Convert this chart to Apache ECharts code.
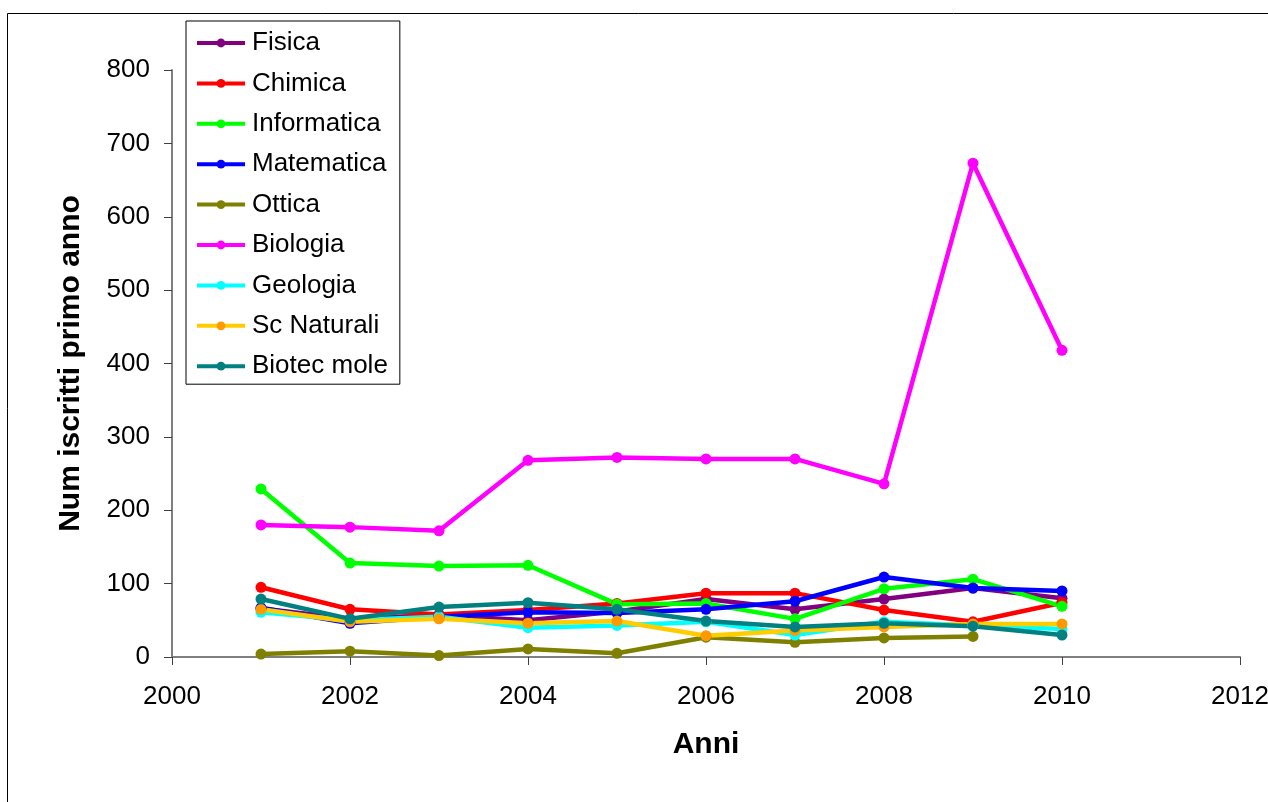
<!DOCTYPE html>
<html>
<head>
<meta charset="utf-8">
<title>Iscritti primo anno</title>
<script src="https://cdn.jsdelivr.net/npm/echarts@6/dist/echarts.min.js"></script>
<style>
	html, body { margin: 0; padding: 0; background: #fff; }
	#container { width: 1268px; height: 802px; }
</style>
</head>
<body>
<div id="container"></div>
<script>
'use strict';

// anni accademici
var years = [2001, 2002, 2003, 2004, 2005, 2006, 2007, 2008, 2009, 2010];

var fisica      = [66, 52, 57, 50, 62, 79, 65, 79, 94, 80];
var chimica     = [95, 65, 58, 64, 73, 87, 87, 64, 48, 74];
var informatica = [229, 128, 124, 125, 72, 73, 52, 93, 106, 69];
var matematica  = [67, 46, 55, 61, 60, 65, 76, 109, 94, 90];
var ottica      = [4, 8, 2, 11, 5, 27, 20, 26, 28, null];
var biologia    = [180, 177, 172, 268, 272, 270, 270, 236, 673, 418];
var geologia    = [61, 50, 55, 40, 43, 48, 30, 48, 43, 38];
var scNaturali  = [65, 48, 52, 46, 49, 29, 36, 41, 45, 45];
var biotecMole  = [79, 52, 68, 74, 65, 49, 41, 46, 42, 30];

var seriesNames = ['Fisica', 'Chimica', 'Informatica', 'Matematica', 'Ottica',
	'Biologia', 'Geologia', 'Sc Naturali', 'Biotec mole'];
var seriesValues = [fisica, chimica, informatica, matematica, ottica,
	biologia, geologia, scNaturali, biotecMole];
var lineColors = ['#800080', '#ff0000', '#00ff00', '#0000ff', '#808000',
	'#ff00ff', '#00ffff', '#ffcc00', '#008080'];
var dotColors = ['#800080', '#ff0000', '#00ff00', '#0000ff', '#808000',
	'#ff00ff', '#00ffff', '#ff9900', '#008080'];

var xTicks = { min: 2000, max: 2012, interval: 2 };
var yTicks = { min: 0, max: 800, interval: 100 };

var font = "'Liberation Sans', Arial, sans-serif";

function pairs(vals) {
	var res = [];
	for (var i = 0; i < years.length; i++) {
		if (vals[i] !== null) res.push([years[i], vals[i]]);
	}
	return res;
}

var series = [];
for (var i = 0; i < seriesNames.length; i++) {
	series.push({
		name: seriesNames[i],
		type: 'line',
		data: pairs(seriesValues[i]),
		symbol: 'circle',
		symbolSize: 11,
		showAllSymbol: true,
		lineStyle: { width: 4.5, color: lineColors[i] },
		itemStyle: { color: dotColors[i], borderWidth: 0 },
		emphasis: { disabled: true },
		animation: false
	});
}

var myChart = echarts.init(document.getElementById('container'));

var option = {
	backgroundColor: '#fff',
	textStyle: { fontFamily: font },
	graphic: [{
		type: 'rect',
		shape: { x: 7.5, y: 13.5, width: 1300, height: 820 },
		style: { fill: 'none', stroke: '#000', lineWidth: 1 },
		silent: true
	}],
	legend: {
		orient: 'vertical',
		left: 186,
		top: 21,
		padding: [9, 12, 5, 9],
		itemGap: 14.4,
		itemWidth: 48,
		itemHeight: 11,
		borderColor: '#000',
		borderWidth: 1,
		backgroundColor: '#fff',
		lineStyle: { width: 4 },
		textStyle: { fontSize: 26, lineHeight: 26, color: '#000', fontFamily: font, padding: [0, 0, 0, 2] },
		data: seriesNames
	},
	grid: {
		left: 172,
		right: 28,
		top: 70,
		bottom: 145,
		outerBoundsMode: 'none',
		containLabel: false
	},
	xAxis: {
		type: 'value',
		min: xTicks.min,
		max: xTicks.max,
		interval: xTicks.interval,
		name: 'Anni',
		nameLocation: 'middle',
		nameGap: 73,
		nameTextStyle: { fontSize: 30, fontWeight: 'bold', color: '#000', fontFamily: font },
		axisLine: { lineStyle: { color: '#808080', width: 2 } },
		axisTick: { inside: false, length: 8, lineStyle: { color: '#404040', width: 1 } },
		axisLabel: {
			fontSize: 26, color: '#000', margin: 27, fontFamily: font,
			formatter: function (v) { return String(v); }
		},
		splitLine: { show: false }
	},
	yAxis: {
		type: 'value',
		min: yTicks.min,
		max: yTicks.max,
		interval: yTicks.interval,
		name: 'Num iscritti primo anno',
		nameLocation: 'middle',
		nameGap: 86,
		nameTextStyle: { fontSize: 30, fontWeight: 'bold', color: '#000', fontFamily: font },
		axisLine: { show: true, lineStyle: { color: '#808080', width: 2 } },
		axisTick: { show: true, inside: false, length: 8, lineStyle: { color: '#404040', width: 1 } },
		axisLabel: { fontSize: 26, color: '#000', margin: 22, fontFamily: font },
		splitLine: { show: false }
	},
	series: series
};

myChart.setOption(option);
</script>
</body>
</html>
